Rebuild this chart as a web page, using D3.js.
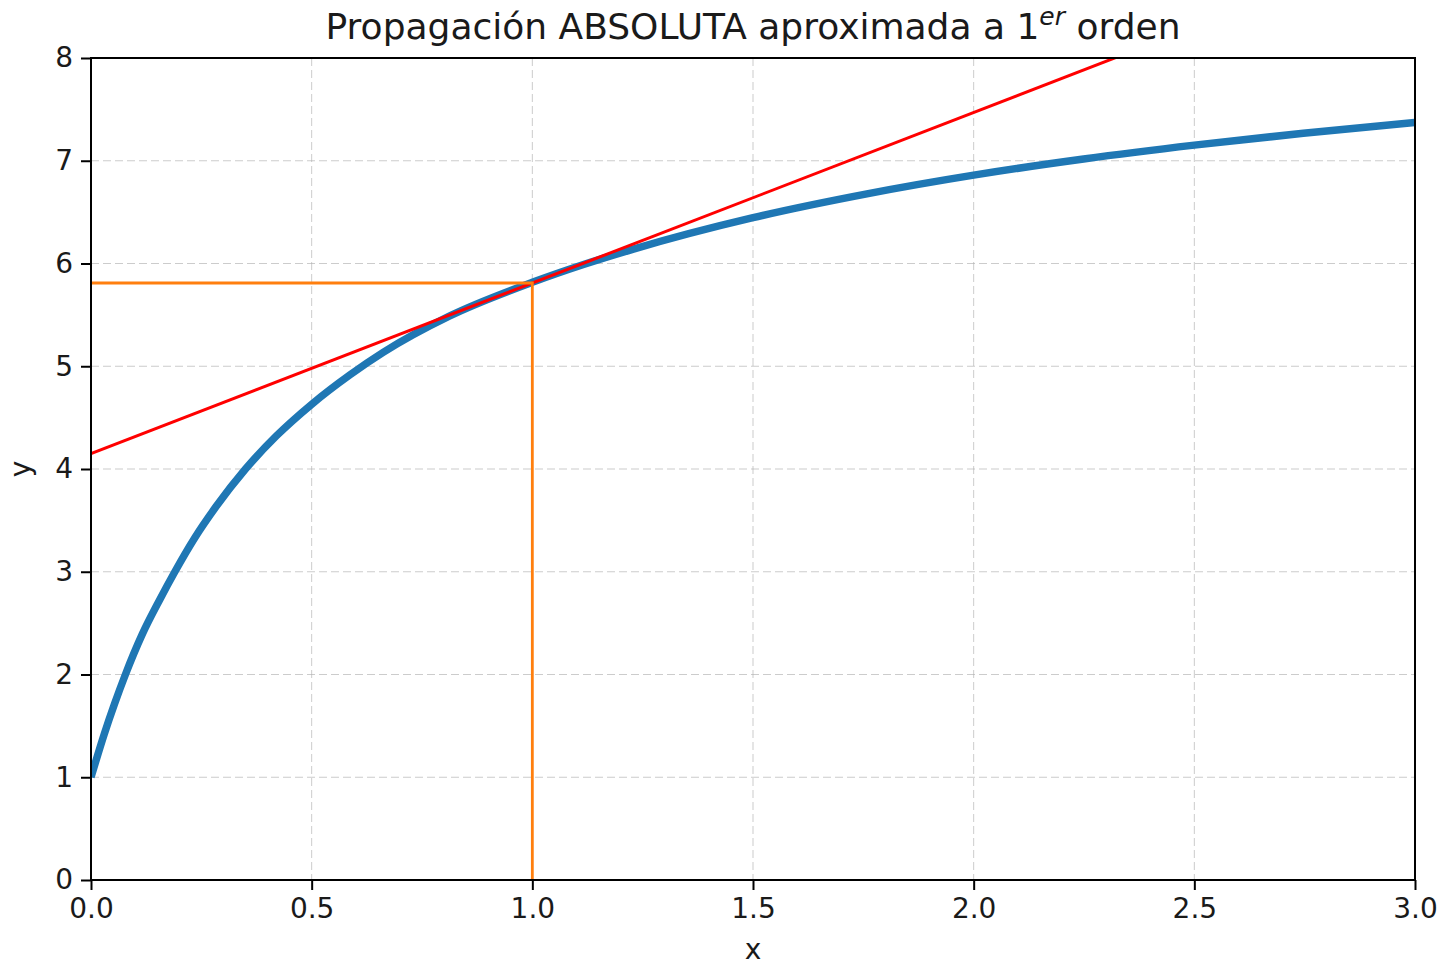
<!DOCTYPE html>
<html>
<head>
<meta charset="utf-8">
<script src="https://cdn.jsdelivr.net/npm/d3@7"></script>
<style>
  html, body { margin: 0; padding: 0; background: #fff; }
  svg { display: block; font-family: "DejaVu Sans", sans-serif; }
</style>
</head>
<body>
<svg id="chart" width="1440" height="966"></svg>
<script>
// Curve y(x) sampled along the plotted function
const curveX = [0, 0.030, 0.053, 0.078, 0.116, 0.156, 0.19, 0.236, 0.283, 0.35, 0.42, 0.5, 0.587, 0.662, 0.813, 1.0, 1.116, 1.229, 1.5, 1.758, 2.0, 2.249, 2.5, 2.747, 3.0];
const curveY = [1.0, 1.42, 1.71, 2.0, 2.39, 2.73, 3.0, 3.336, 3.632, 4.0, 4.322, 4.63, 4.917, 5.135, 5.49, 5.817, 5.99, 6.14, 6.446, 6.678, 6.86, 7.017, 7.152, 7.268, 7.372];

// First-order (tangent) approximation at the evaluation point
const tangentX = [0, 3];
const tangentY = [4.15, 9.13];

// Evaluation point x0 and its image y0
const pointX = 1.0;
const pointY = 5.81;

const xTicks = [0, 0.5, 1.0, 1.5, 2.0, 2.5, 3.0];
const yTicks = [0, 1, 2, 3, 4, 5, 6, 7, 8];

const svg = d3.select("#chart");
const margin = { left: 91, right: 25, top: 58, bottom: 86 };
const W = 1440, H = 966;
const iw = W - margin.left - margin.right;
const ih = H - margin.top - margin.bottom;

const x = d3.scaleLinear().domain([0, 3]).range([margin.left, margin.left + iw]);
const y = d3.scaleLinear().domain([0, 8]).range([margin.top + ih, margin.top]);

svg.append("defs").append("clipPath").attr("id", "plotClip")
  .append("rect").attr("x", margin.left).attr("y", margin.top).attr("width", iw).attr("height", ih);

// Grid
const grid = svg.append("g");
grid.selectAll("line.gx").data(xTicks).join("line")
  .attr("x1", d => x(d)).attr("x2", d => x(d))
  .attr("y1", margin.top).attr("y2", margin.top + ih)
  .attr("stroke", "#b0b0b0").attr("stroke-opacity", 0.65).attr("stroke-width", 1)
  .attr("stroke-dasharray", "8,4");
grid.selectAll("line.gy").data(yTicks).join("line")
  .attr("y1", d => y(d)).attr("y2", d => y(d))
  .attr("x1", margin.left).attr("x2", margin.left + iw)
  .attr("stroke", "#b0b0b0").attr("stroke-opacity", 0.65).attr("stroke-width", 1)
  .attr("stroke-dasharray", "8,4");

const plot = svg.append("g").attr("clip-path", "url(#plotClip)");

const curveData = curveX.map((d, i) => [d, curveY[i]]);
const line = d3.line().x(d => x(d[0])).y(d => y(d[1])).curve(d3.curveMonotoneX);

plot.append("path").datum(curveData)
  .attr("d", line).attr("fill", "none")
  .attr("stroke", "#1f77b4").attr("stroke-width", 7.5).attr("stroke-linecap", "butt");

const tanData = tangentX.map((d, i) => [d, tangentY[i]]);
plot.append("path").datum(tanData)
  .attr("d", d3.line().x(d => x(d[0])).y(d => y(d[1])))
  .attr("fill", "none").attr("stroke", "#f00").attr("stroke-width", 3);

// Projection of the evaluation point onto both axes
const guide = [[0, pointY], [pointX, pointY], [pointX, 0]];
plot.append("path").datum(guide)
  .attr("d", d3.line().x(d => x(d[0])).y(d => y(d[1])))
  .attr("fill", "none").attr("stroke", "#ff7f0e").attr("stroke-width", 2.8);

// Axes
const tickFont = 28;
const xAxis = d3.axisBottom(x).tickValues(xTicks).tickFormat(d3.format(".1f")).tickSize(10).tickPadding(8);
const yAxis = d3.axisLeft(y).tickValues(yTicks).tickFormat(d3.format("d")).tickSize(10).tickPadding(8);

const gx = svg.append("g").attr("transform", `translate(0,${margin.top + ih})`).call(xAxis);
const gy = svg.append("g").attr("transform", `translate(${margin.left},0)`).call(yAxis);
[gx, gy].forEach(g => {
  g.select(".domain").remove();
  g.selectAll(".tick line").attr("stroke", "#000").attr("stroke-width", 2);
  g.selectAll(".tick text").attr("fill", "#1a1a1a").style("font-size", tickFont + "px")
    .style("font-family", "DejaVu Sans, sans-serif");
});

// Frame
svg.append("rect").attr("x", margin.left).attr("y", margin.top).attr("width", iw).attr("height", ih)
  .attr("fill", "none").attr("stroke", "#000").attr("stroke-width", 2);

// Labels
svg.append("text").attr("x", x(1.5)).attr("y", 959).attr("text-anchor", "middle")
  .style("font-size", "28px").attr("fill", "#1a1a1a").text("x");
svg.append("text").attr("transform", `translate(30,${y(4)}) rotate(-90)`).attr("text-anchor", "middle")
  .style("font-size", "28px").attr("fill", "#1a1a1a").text("y");

const title = svg.append("text").attr("x", x(1.5)).attr("y", 39).attr("text-anchor", "middle")
  .style("font-size", "36px").attr("fill", "#1a1a1a");
title.append("tspan").text("Propagación ABSOLUTA aproximada a 1");
title.append("tspan").attr("dy", -14).style("font-size", "25px").style("font-style", "italic").text("er");
title.append("tspan").attr("dy", 14).text(" orden");
</script>
</body>
</html>
